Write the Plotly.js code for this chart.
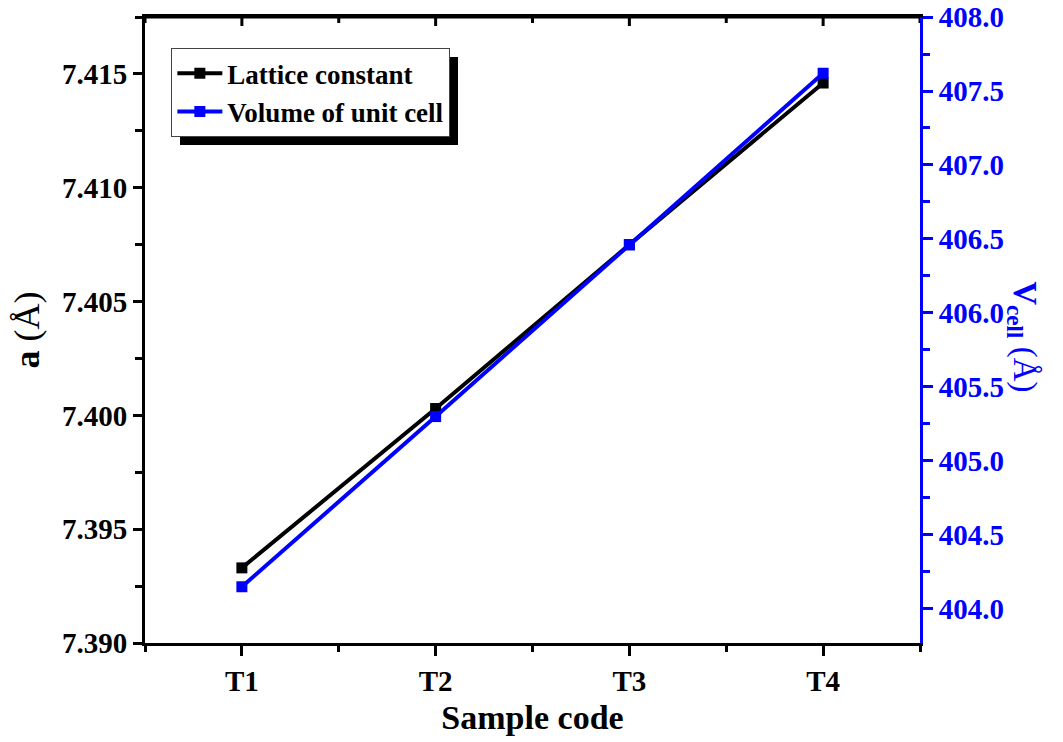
<!DOCTYPE html>
<html>
<head>
<meta charset="utf-8">
<script src="https://cdn.plot.ly/plotly-3.0.1.min.js"></script>
<style>html,body{margin:0;padding:0;background:#fff;}#chart{width:1063px;height:742px;}</style>
</head>
<body>
<div id="chart"></div>
<script>
const categories = ['T1', 'T2', 'T3', 'T4'];
const latticeConstant = [7.3933, 7.4003, 7.4075, 7.4146];
const cellVolume = [404.15, 405.30, 406.46, 407.62];
const seriesNames = ['Lattice constant', 'Volume of unit cell'];

const xPos = categories.map((c, i) => i + 1);
const FONT = 'Liberation Serif, Times New Roman, serif';
const BLUE = '#0000FF';

const traces = [
  {
    x: xPos, y: latticeConstant, name: seriesNames[0], type: 'scatter', mode: 'lines+markers',
    line: {color: '#000', width: 4}, marker: {symbol: 'square', size: 11, color: '#000'},
    xaxis: 'x', yaxis: 'y', hoverinfo: 'skip'
  },
  {
    x: xPos, y: cellVolume, name: seriesNames[1], type: 'scatter', mode: 'lines+markers',
    line: {color: BLUE, width: 4}, marker: {symbol: 'square', size: 11, color: BLUE},
    xaxis: 'x', yaxis: 'y2', hoverinfo: 'skip'
  }
];

const tickFont = {family: FONT, size: 29, weight: 'bold', color: '#000'};
const PLOT_H = 742 - 17 - 99;

// top border line plus inward ticks (major at categories, minor halfway between)
const topShapes = [{type: 'line', xref: 'paper', yref: 'paper', x0: 0, x1: 1, y0: 1, y1: 1,
                    line: {color: '#000', width: 3}, layer: 'above'}];
xPos.forEach(function (v) {
  topShapes.push({type: 'line', xref: 'x', yref: 'paper', x0: v, x1: v, y0: 1, y1: 1 - 9 / PLOT_H,
                  line: {color: '#000', width: 3}, layer: 'above'});
});
[0.5].concat(xPos.map(v => v + 0.5)).forEach(function (v) {
  topShapes.push({type: 'line', xref: 'x', yref: 'paper', x0: v, x1: v, y0: 1, y1: 1 - 6 / PLOT_H,
                  line: {color: '#000', width: 3}, layer: 'above'});
});

const layout = {
  width: 1063, height: 742,
  margin: {l: 145, r: 143, t: 17, b: 99},
  paper_bgcolor: '#fff', plot_bgcolor: '#fff',
  showlegend: true,
  dragmode: false,
  legend: {
    x: 0.034, y: 0.95, xanchor: 'left', yanchor: 'top',
    bgcolor: '#fff', bordercolor: '#444', borderwidth: 1,
    font: {family: FONT, size: 27, weight: 'bold', color: '#000'},
    tracegroupgap: 0, itemwidth: 45
  },
  xaxis: {
    range: [0.5, 4.5], tickmode: 'array', tickvals: xPos, ticktext: categories,
    showgrid: false, zeroline: false,
    showline: true, mirror: true, linecolor: '#000', linewidth: 3,
    ticks: 'outside', ticklen: 10, tickwidth: 3, tickcolor: '#000',
    minor: {tickmode: 'linear', tick0: 0.5, dtick: 1, ticks: 'outside', ticklen: 6, tickwidth: 3, tickcolor: '#000', showgrid: false},
    tickfont: tickFont,
    title: {text: 'Sample code', font: {family: FONT, size: 34, weight: 'bold', color: '#000'}, standoff: 10}
  },
  yaxis: {
    range: [7.390, 7.4175], tickmode: 'linear', tick0: 7.390, dtick: 0.005, tickformat: '.3f',
    showgrid: false, zeroline: false,
    showline: true, linecolor: '#000', linewidth: 3,
    ticks: 'outside', ticklen: 9, tickwidth: 3, tickcolor: '#000',
    minor: {tickmode: 'linear', tick0: 7.390, dtick: 0.0025, ticks: 'outside', ticklen: 7, tickwidth: 3, tickcolor: '#000', showgrid: false},
    tickfont: tickFont,
    title: {text: '<b>a</b> (Å)', font: {family: FONT, size: 36, color: '#000'}, standoff: 12}
  },
  yaxis2: {
    overlaying: 'y', side: 'right', anchor: 'x',
    range: [403.77, 408.0], tickmode: 'linear', tick0: 404, dtick: 0.5, tickformat: '.1f',
    showgrid: false, zeroline: false,
    showline: true, linecolor: BLUE, linewidth: 3,
    ticks: 'outside', ticklen: 10, tickwidth: 3, tickcolor: BLUE,
    minor: {tickmode: 'linear', tick0: 404, dtick: 0.25, ticks: 'outside', ticklen: 7, tickwidth: 3, tickcolor: BLUE, showgrid: false},
    tickfont: {family: FONT, size: 29, weight: 'bold', color: BLUE}
  },
  shapes: topShapes,
  annotations: [
    {xref: 'paper', yref: 'paper', x: 1.162, y: 0.49, showarrow: false, textangle: 90,
     text: '<b>V</b><sub><b>cell</b></sub> (Å)', font: {family: FONT, size: 33, color: BLUE}}
  ]
};

const gd = document.getElementById('chart');
Plotly.newPlot(gd, traces, layout, {displayModeBar: false}).then(function () {
  // drop shadow behind the legend box: a black copy of its background, offset 8px
  const bg = gd.querySelector('.legend .bg');
  if (!bg) return;
  const sh = bg.cloneNode(false);
  sh.setAttribute('class', 'legend-shadow');
  sh.style.fill = '#000';
  sh.style.fillOpacity = '1';
  sh.style.stroke = 'none';
  const tr = bg.getAttribute('transform') || '';
  sh.setAttribute('transform', (tr + ' translate(8,8)').trim());
  bg.parentNode.insertBefore(sh, bg);
});
</script>
</body>
</html>
